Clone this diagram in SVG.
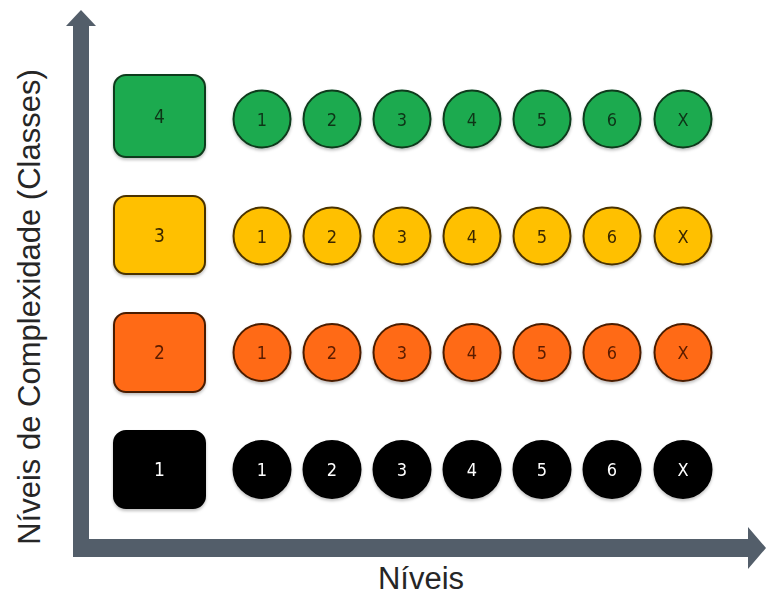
<svg xmlns="http://www.w3.org/2000/svg" width="766" height="595" viewBox="0 0 766 595">
<defs>
<style>
.lbl{font-family:"Liberation Sans",Arial,sans-serif;fill:#262626}
.num{font-family:"DejaVu Sans Condensed","DejaVu Sans",sans-serif;font-size:18px;text-anchor:middle;dominant-baseline:central}
.big{font-size:19px}
.box{stroke-width:2}
.c{stroke-width:2}
.g{fill:#1FAA50;stroke:#0E3A1C}
.gt{fill:#0D3518}
.y{fill:#FFC000;stroke:#4A3300}
.yt{fill:#3A2800}
.o{fill:#FF6A14;stroke:#4A1C00}
.ot{fill:#5A1C00}
.k{fill:#000;stroke:#000}
.kt{fill:#fff}
.axis{fill:#535E6A}
</style>
<filter id="sh" x="-20%" y="-20%" width="140%" height="150%">
<feDropShadow dx="0" dy="2" stdDeviation="1.5" flood-color="#000" flood-opacity="0.25"/>
</filter>
</defs>
<rect width="766" height="595" fill="#fff"/>
<g id="axes">
<polygon class="axis" points="73,557 73,26 66,26 81,10 96,26 89,26 89,557"/>
<polygon class="axis" points="73,539 748,539 748,527 766,548 748,569 748,557 73,557"/>
</g>
<text class="lbl" x="421" y="589" font-size="31" text-anchor="middle">Níveis</text>
<text class="lbl" transform="translate(40,307) rotate(-90)" font-size="31" text-anchor="middle">Níveis de Complexidade (Classes)</text>
<g id="row4" filter="url(#sh)">
<g id="box4"><rect class="box g" x="114" y="75" width="91" height="82" rx="12"/><text class="num big gt" x="159.5" y="116">4</text></g>
<g id="n4-1"><circle class="c g" cx="262" cy="119" r="28.5"/><text class="num gt" x="262" y="119">1</text></g>
<g id="n4-2"><circle class="c g" cx="332" cy="119" r="28.5"/><text class="num gt" x="332" y="119">2</text></g>
<g id="n4-3"><circle class="c g" cx="402" cy="119" r="28.5"/><text class="num gt" x="402" y="119">3</text></g>
<g id="n4-4"><circle class="c g" cx="472" cy="119" r="28.5"/><text class="num gt" x="472" y="119">4</text></g>
<g id="n4-5"><circle class="c g" cx="542" cy="119" r="28.5"/><text class="num gt" x="542" y="119">5</text></g>
<g id="n4-6"><circle class="c g" cx="612" cy="119" r="28.5"/><text class="num gt" x="612" y="119">6</text></g>
<g id="n4-x"><circle class="c g" cx="683" cy="119" r="28.5"/><text class="num gt" x="683" y="119">X</text></g>
</g>
<g id="row3" filter="url(#sh)">
<g id="box3"><rect class="box y" x="114" y="196" width="91" height="78" rx="12"/><text class="num big yt" x="159.5" y="235">3</text></g>
<g id="n3-1"><circle class="c y" cx="262" cy="236" r="28.5"/><text class="num yt" x="262" y="236">1</text></g>
<g id="n3-2"><circle class="c y" cx="332" cy="236" r="28.5"/><text class="num yt" x="332" y="236">2</text></g>
<g id="n3-3"><circle class="c y" cx="402" cy="236" r="28.5"/><text class="num yt" x="402" y="236">3</text></g>
<g id="n3-4"><circle class="c y" cx="472" cy="236" r="28.5"/><text class="num yt" x="472" y="236">4</text></g>
<g id="n3-5"><circle class="c y" cx="542" cy="236" r="28.5"/><text class="num yt" x="542" y="236">5</text></g>
<g id="n3-6"><circle class="c y" cx="612" cy="236" r="28.5"/><text class="num yt" x="612" y="236">6</text></g>
<g id="n3-x"><circle class="c y" cx="683" cy="236" r="28.5"/><text class="num yt" x="683" y="236">X</text></g>
</g>
<g id="row2" filter="url(#sh)">
<g id="box2"><rect class="box o" x="114" y="313" width="91" height="79" rx="12"/><text class="num big ot" x="159.5" y="352">2</text></g>
<g id="n2-1"><circle class="c o" cx="262" cy="352.5" r="28.5"/><text class="num ot" x="262" y="352.5">1</text></g>
<g id="n2-2"><circle class="c o" cx="332" cy="352.5" r="28.5"/><text class="num ot" x="332" y="352.5">2</text></g>
<g id="n2-3"><circle class="c o" cx="402" cy="352.5" r="28.5"/><text class="num ot" x="402" y="352.5">3</text></g>
<g id="n2-4"><circle class="c o" cx="472" cy="352.5" r="28.5"/><text class="num ot" x="472" y="352.5">4</text></g>
<g id="n2-5"><circle class="c o" cx="542" cy="352.5" r="28.5"/><text class="num ot" x="542" y="352.5">5</text></g>
<g id="n2-6"><circle class="c o" cx="612" cy="352.5" r="28.5"/><text class="num ot" x="612" y="352.5">6</text></g>
<g id="n2-x"><circle class="c o" cx="683" cy="352.5" r="28.5"/><text class="num ot" x="683" y="352.5">X</text></g>
</g>
<g id="row1" filter="url(#sh)">
<g id="box1"><rect class="box k" x="114" y="431" width="91" height="77" rx="12"/><text class="num big kt" x="159.5" y="469">1</text></g>
<g id="n1-1"><circle class="c k" cx="262" cy="469.5" r="28.5"/><text class="num kt" x="262" y="469.5">1</text></g>
<g id="n1-2"><circle class="c k" cx="332" cy="469.5" r="28.5"/><text class="num kt" x="332" y="469.5">2</text></g>
<g id="n1-3"><circle class="c k" cx="402" cy="469.5" r="28.5"/><text class="num kt" x="402" y="469.5">3</text></g>
<g id="n1-4"><circle class="c k" cx="472" cy="469.5" r="28.5"/><text class="num kt" x="472" y="469.5">4</text></g>
<g id="n1-5"><circle class="c k" cx="542" cy="469.5" r="28.5"/><text class="num kt" x="542" y="469.5">5</text></g>
<g id="n1-6"><circle class="c k" cx="612" cy="469.5" r="28.5"/><text class="num kt" x="612" y="469.5">6</text></g>
<g id="n1-x"><circle class="c k" cx="683" cy="469.5" r="28.5"/><text class="num kt" x="683" y="469.5">X</text></g>
</g>
</svg>
